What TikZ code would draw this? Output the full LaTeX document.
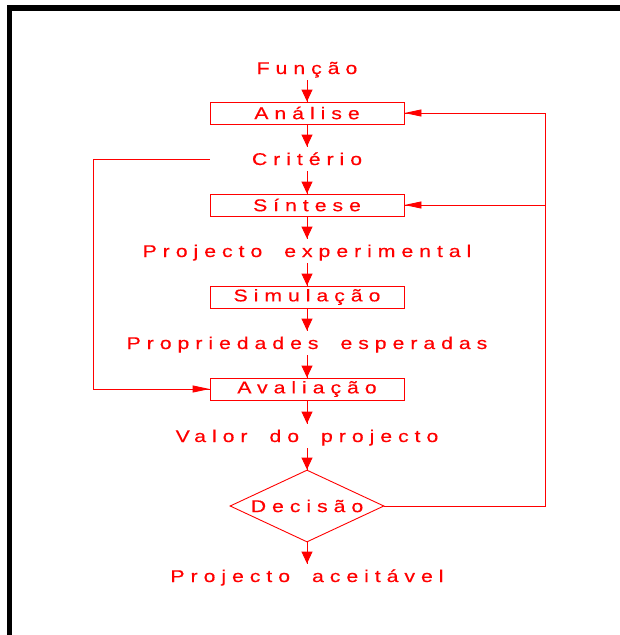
\documentclass[tikz,border=0pt]{standalone}
\usepackage{fontspec}
\usepackage{tikz}
\usetikzlibrary{arrows.meta}
\usetikzlibrary{decorations.markings}
\usetikzlibrary{positioning}
\usetikzlibrary{shapes.geometric}
\newfontfamily\cadfont[LetterSpace=35, FakeStretch=1.25, FakeBold=0.4]{Liberation Sans}
\newcommand{\wsp}{\hspace{22pt}}
\definecolor{cadred}{RGB}{255,0,0}
\tikzset{flow/.style = {decoration={markings,
                                    mark=at position 1 with {\arrow{Triangle[length=12pt,width=11pt]}}},
                        postaction={decorate}},
         back/.style = {decoration={markings,
                                    mark=at position 1 with {\arrow{Triangle[length=17pt,width=7pt]}}},
                        postaction={decorate}},
         stage/.style = {draw, minimum width=194pt, minimum height=22pt, inner sep=0pt},
         flowtext/.style = {anchor=base, text height=12pt, text depth=0pt, inner xsep=0pt, inner ysep=6pt}}

\begin{document}
\begin{tikzpicture}[x=1pt, y=-1pt, cadred, line width=0.9pt,
                    font=\cadfont\fontsize{17}{17}\selectfont]
      \useasboundingbox (0, 0) rectangle (620, 635);
      \fill [black] (7, 5) rectangle (620, 11);
      \fill [black] (7, 5) rectangle (12, 635);
      \node [flowtext] (funcao) at (307, 74) {Função};
      \node [stage] (analise) at (307, 113) {Análise};
      \node [flowtext] (criterio) at (307, 165) {Critério};
      \node [stage] (sintese) at (307, 205) {Síntese};
      \node [flowtext] (experimental) at (307, 257) {Projecto\wsp experimental};
      \node [stage] (simulacao) at (307, 297) {Simulação};
      \node [flowtext] (propriedades) at (307, 349) {Propriedades\wsp esperadas};
      \node [stage] (avaliacao) at (307, 389) {Avaliação};
      \node [flowtext] (valor) at (307, 442) {Valor\wsp do\wsp projecto};
      \node [draw, diamond, aspect=2.14, minimum width=154pt, minimum height=72pt, inner sep=0pt]
            (decisao) at (307, 506) {Decisão};
      \node [flowtext] (aceitavel) at (307, 582) {Projecto\wsp aceitável};
      \coordinate (leftrail) at (93, 159);
      \coordinate (rightrail) at (545, 113);
      \draw [flow] (funcao) -- (analise);
      \draw [flow] (analise) -- (criterio);
      \draw [flow] (criterio) -- (sintese);
      \draw [flow] (sintese) -- (experimental);
      \draw [flow] (experimental) -- (simulacao);
      \draw [flow] (simulacao) -- (propriedades);
      \draw [flow] (propriedades) -- (avaliacao);
      \draw [flow] (avaliacao) -- (valor);
      \draw [flow] (valor) -- (decisao);
      \draw [flow] (decisao) -- (aceitavel);
      \draw [back] (analise.west |- criterio) -- (leftrail) |- (avaliacao.west);
      \draw [back] (decisao.east) -| (rightrail) -- (analise.east);
      \draw [back] (rightrail |- sintese) -- (sintese.east);
    \end{tikzpicture}
\end{document}
